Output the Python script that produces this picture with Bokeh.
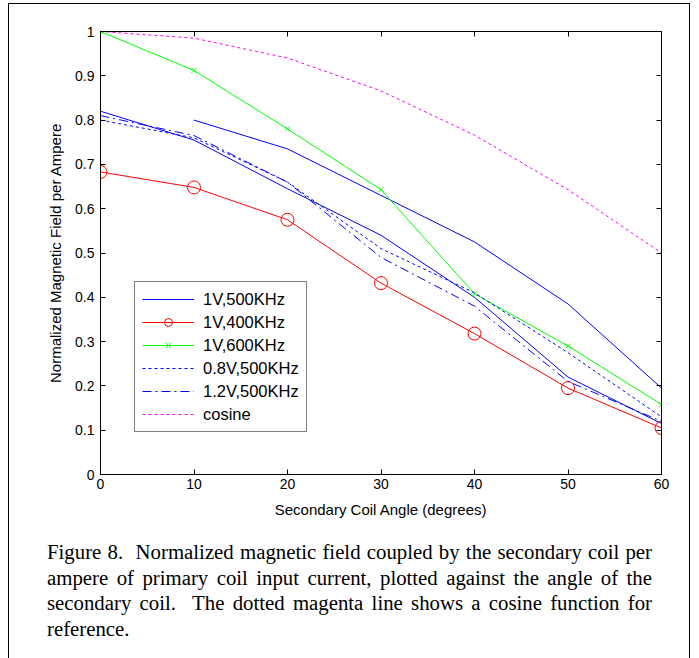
from bokeh.plotting import figure
from bokeh.models import Range1d, FixedTicker, LinearAxis, Legend, LegendItem, Div
from bokeh.layouts import column
from bokeh.embed import file_html
from bokeh.resources import INLINE

angles = [0, 10, 20, 30, 40, 50, 60]
v1_500 = [0.82, 0.755, 0.645, 0.54, 0.40, 0.22, 0.115]
v1_500_upper_x = [10, 20, 30, 40, 50, 60]
v1_500_upper = [0.80, 0.735, 0.63, 0.525, 0.385, 0.195]
v1_400 = [0.683, 0.648, 0.575, 0.432, 0.318, 0.195, 0.105]
v1_600 = [1.0, 0.912, 0.78, 0.643, 0.408, 0.29, 0.158]
v08_500 = [0.80, 0.76, 0.66, 0.51, 0.41, 0.275, 0.13]
v12_500 = [0.81, 0.765, 0.66, 0.49, 0.38, 0.21, 0.12]
cosine = [1.0, 0.985, 0.94, 0.866, 0.766, 0.643, 0.50]

x_ticks = [0, 10, 20, 30, 40, 50, 60]
y_ticks = [0, 0.1, 0.2, 0.3, 0.4, 0.5, 0.6, 0.7, 0.8, 0.9, 1.0]
y_tick_labels = ["0", "0.1", "0.2", "0.3", "0.4", "0.5", "0.6", "0.7", "0.8", "0.9", "1"]

caption_lines = [
    "Figure 8.&nbsp; Normalized magnetic field coupled by the secondary coil per",
    "ampere of primary coil input current, plotted against the angle of the",
    "secondary coil.&nbsp; The dotted magenta line shows a cosine function for",
    "reference.",
]

FONT = "Liberation Sans"

p = figure(width=680, height=526, output_backend="svg", toolbar_location=None,
           x_range=Range1d(0, 60), y_range=Range1d(0, 1),
           min_border_left=90, min_border_right=29, min_border_top=27,
           min_border_bottom=56, margin=(2, 2, 0, 2))
p.grid.visible = False
p.outline_line_color = "black"
p.background_fill_color = "white"
p.border_fill_color = "white"

p.xaxis.ticker = FixedTicker(ticks=x_ticks)
p.yaxis.ticker = FixedTicker(ticks=y_ticks)
p.yaxis.major_label_overrides = {t: l for t, l in zip(y_ticks, y_tick_labels)}
for ax in (p.xaxis[0], p.yaxis[0]):
    ax.major_tick_in = 5
    ax.major_tick_out = 0
    ax.minor_tick_in = 0
    ax.minor_tick_out = 0
    ax.axis_line_color = "black"
    ax.major_tick_line_color = "black"
    ax.major_label_text_font = FONT
    ax.major_label_text_font_size = "14px"
    ax.major_label_text_color = "black"
    ax.axis_label_text_font = FONT
    ax.axis_label_text_font_size = "15px"
    ax.axis_label_text_font_style = "normal"
    ax.axis_label_text_color = "black"
p.xaxis.axis_label = "Secondary Coil Angle (degrees)"
p.yaxis.axis_label = "Normalized Magnetic Field per Ampere"
p.xaxis.major_label_standoff = 4
p.xaxis.axis_label_standoff = 9
p.yaxis.major_label_standoff = 6
p.yaxis.axis_label_standoff = 8

for loc in ("right", "above"):
    ax = LinearAxis(ticker=FixedTicker(ticks=x_ticks if loc == "above" else y_ticks),
                    major_tick_in=5, major_tick_out=0, minor_tick_in=0, minor_tick_out=0,
                    major_label_text_font_size="0px", major_label_standoff=0)
    p.add_layout(ax, loc)

BLUE = "#0000ff"
r1 = p.line(angles, v1_500, line_color=BLUE, line_width=1)
p.line(v1_500_upper_x, v1_500_upper, line_color=BLUE, line_width=1)
r2 = p.line(angles, v1_400, line_color="#ff0000", line_width=1)
r2m = p.scatter(angles, v1_400, marker="circle", size=13, fill_color=None,
                line_color="#ff0000", line_width=1)
r3 = p.line(angles, v1_600, line_color="#00ff00", line_width=1)
r3m = p.scatter(angles, v1_600, marker="x", size=7, line_color="#00ff00", line_width=1)
r4 = p.line(angles, v08_500, line_color=BLUE, line_width=1, line_dash="3 3")
r5 = p.line(angles, v12_500, line_color=BLUE, line_width=1, line_dash="9 4 2 4")
r6 = p.line(angles, cosine, line_color="#ff00ff", line_width=1, line_dash="3 3")

legend = Legend(items=[
    LegendItem(label="1V,500KHz", renderers=[r1]),
    LegendItem(label="1V,400KHz", renderers=[r2, r2m]),
    LegendItem(label="1V,600KHz", renderers=[r3, r3m]),
    LegendItem(label="0.8V,500KHz", renderers=[r4]),
    LegendItem(label="1.2V,500KHz", renderers=[r5]),
    LegendItem(label="cosine", renderers=[r6]),
], location=(34, 42), glyph_width=52, glyph_height=20, label_height=20,
    spacing=3, padding=7, margin=0, label_standoff=9,
    label_text_font=FONT, label_text_font_size="16.5px", label_text_color="black",
    border_line_color="black", border_line_width=1, background_fill_alpha=1)
p.add_layout(legend, "center")

line_html = []
for i, line in enumerate(caption_lines):
    last = "justify" if i < len(caption_lines) - 1 else "left"
    line_html.append(
        f'<div style="display:block;width:605px;white-space:normal;'
        f'text-align:justify;text-align-last:{last};">{line}</div>')
frame_box = ('<div style="position:absolute;left:-2px;top:-527px;width:682px;height:720px;'
             'border:1.5px solid black;box-sizing:border-box;pointer-events:none;'
             'z-index:100;"></div>')
caption = Div(text=frame_box + "".join(line_html), width=680, height=132,
              margin=(0, 2, 2, 2),
              styles={"font-family": "'Liberation Serif'", "font-size": "20.8px",
                      "line-height": "25.7px", "color": "black",
                      "padding": "9px 38px 0px 37px", "box-sizing": "border-box",
                      "overflow": "visible", "z-index": "10"})

layout = column(p, caption, spacing=0, margin=(2, 0, 0, 8),
                styles={"overflow": "visible"})

open("out.html", "w").write(file_html(layout, INLINE))
